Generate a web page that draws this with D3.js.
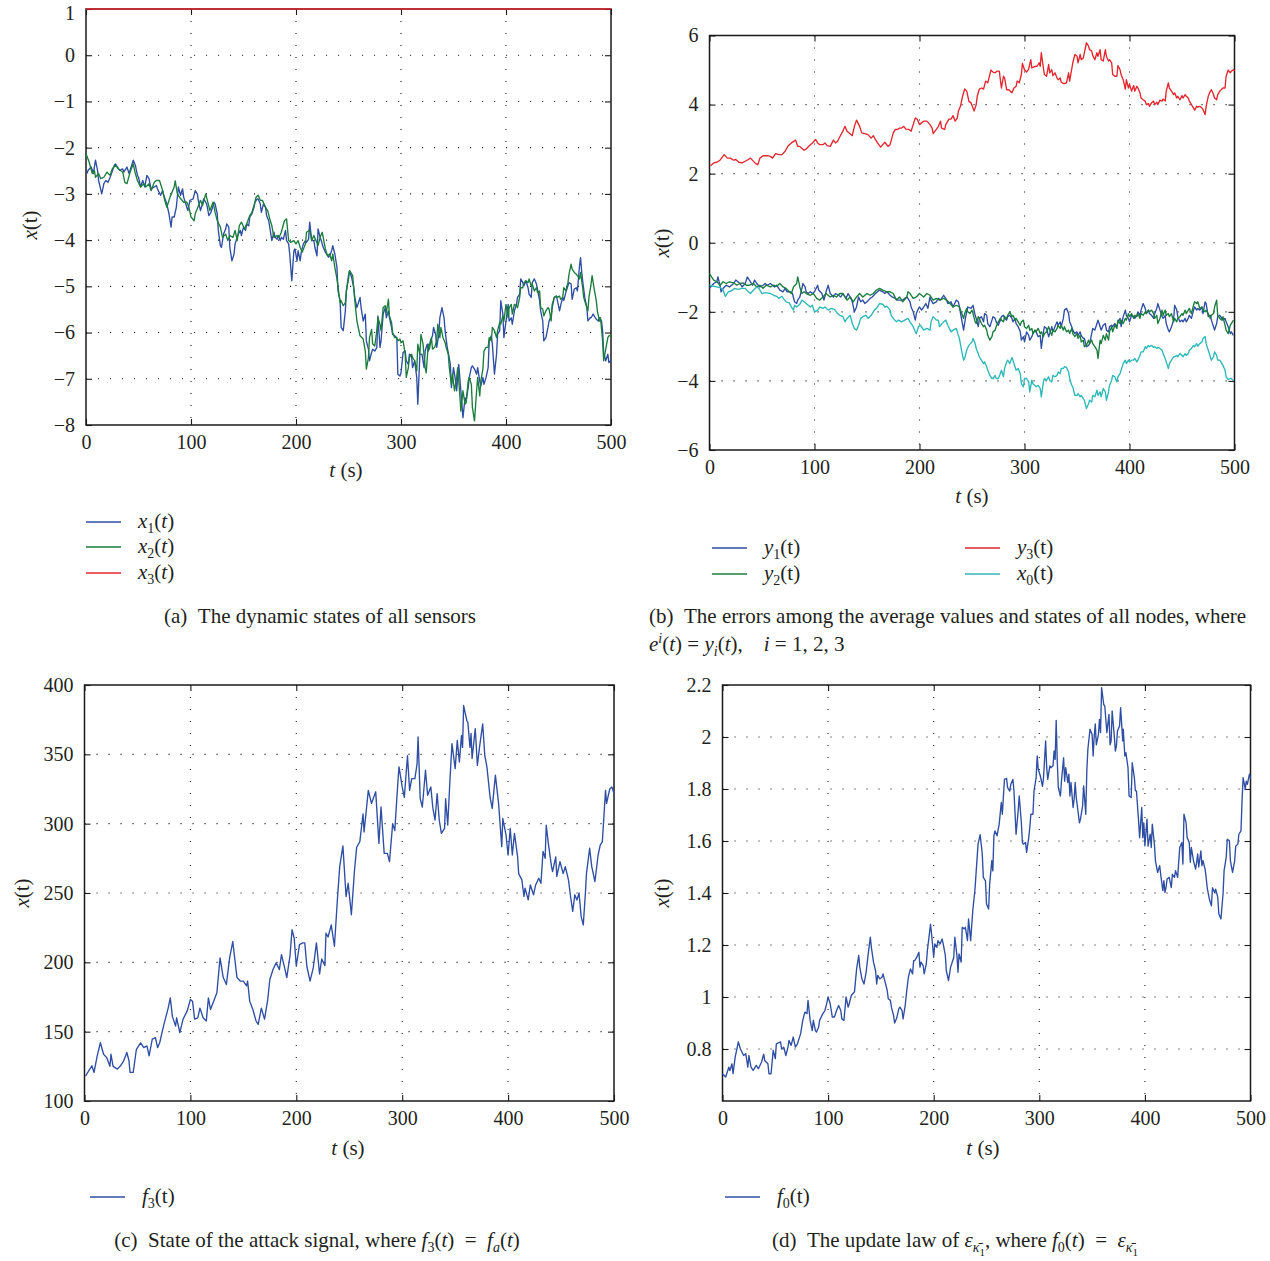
<!DOCTYPE html>
<html><head><meta charset="utf-8">
<script src="https://cdn.jsdelivr.net/npm/d3@7"></script>
<style>
body{margin:0;background:#fff;}
svg text{font-family:"Liberation Serif","DejaVu Serif",serif;fill:#231f20;}
</style></head><body>
<svg id="fig" width="1270" height="1261"></svg>
<script>
// ---- Shared axis ticks ----
const tTicks = [0, 100, 200, 300, 400, 500];
const aTicks = [1, 0, -1, -2, -3, -4, -5, -6, -7, -8];
const bTicks = [6, 4, 2, 0, -2, -4, -6];
const cTicks = [400, 350, 300, 250, 200, 150, 100];
const dTicks = [2.2, 2, 1.8, 1.6, 1.4, 1.2, 1, 0.8];

// ---- (a) sensor states, [t, value] ----
const x1 = [[1,-2.56],[2,-2.49],[5,-2.42],[7,-2.56],[9,-2.27],[11,-2.49],[12,-2.71],[15,-3.0],[17,-2.78],[19,-2.71],[21,-2.75],[23,-2.64],[27,-2.38],[28,-2.35],[30,-2.42],[32,-2.49],[35,-2.46],[36,-2.53],[39,-2.42],[41,-2.56],[43,-2.42],[45,-2.27],[47,-2.38],[49,-2.6],[50,-2.64],[52,-2.85],[54,-2.71],[56,-2.85],[58,-2.6],[60,-2.67],[62,-2.89],[65,-2.85],[67,-2.82],[68,-2.89],[71,-3.03],[73,-2.93],[74,-3.03],[77,-3.22],[79,-3.43],[81,-3.72],[82,-3.5],[84,-3.5],[86,-3.29],[88,-2.85],[90,-3.03],[92,-2.89],[93,-3.07],[96,-3.29],[97,-3.36],[99,-3.14],[102,-3.11],[104,-2.93],[106,-3.0],[107,-3.14],[109,-3.36],[110,-3.29],[112,-3.11],[114,-3.18],[115,-3.22],[117,-3.47],[119,-3.4],[122,-3.18],[123,-3.22],[125,-3.43],[126,-3.79],[128,-4.12],[129,-4.16],[131,-3.87],[133,-3.76],[134,-3.65],[136,-3.72],[137,-4.16],[139,-4.45],[141,-4.3],[142,-4.08],[144,-3.94],[145,-3.87],[147,-3.79],[148,-3.9],[150,-3.72],[152,-3.79],[153,-3.65],[155,-3.69],[156,-3.5],[158,-3.43],[160,-3.29],[161,-3.18],[163,-3.11],[164,-3.11],[166,-3.22],[167,-3.4],[169,-3.22],[171,-3.29],[172,-3.47],[174,-3.58],[175,-3.72],[177,-4.01],[179,-3.83],[180,-3.94],[182,-3.98],[183,-3.9],[185,-4.01],[186,-3.94],[188,-3.98],[190,-3.79],[191,-4.01],[193,-4.08],[194,-4.3],[196,-4.88],[198,-4.23],[199,-4.19],[201,-4.45],[202,-4.23],[204,-4.45],[205,-4.26],[207,-4.08],[209,-4.01],[210,-4.05],[212,-3.98],[213,-3.61],[215,-4.01],[217,-4.01],[218,-4.16],[220,-4.34],[221,-3.76],[223,-3.94],[224,-4.01],[226,-4.16],[228,-4.26],[229,-4.3],[231,-4.37],[232,-4.34],[234,-4.23],[235,-4.12],[237,-4.3],[239,-4.59],
[240,-5.1],[242,-5.31],[243,-5.89],[245,-5.96],[247,-5.53],[248,-5.1],[250,-4.77],[251,-4.66],[253,-4.81],[255,-5.03],[256,-5.24],[258,-5.46],[259,-5.39],[261,-5.24],[262,-5.46],[264,-5.75],[266,-5.6],[267,-6.18],[269,-6.36],[270,-6.61],[272,-6.43],[273,-6.36],[275,-6.4],[277,-6.32],[278,-5.64],[280,-6.32],[281,-6.18],[283,-5.6],[285,-5.46],[286,-5.68],[288,-5.53],[289,-5.68],[291,-5.89],[292,-6.04],[294,-6.07],[296,-6.11],[297,-6.9],[299,-6.94],[300,-6.87],[302,-6.43],[304,-6.4],[305,-6.61],[307,-6.69],[308,-6.47],[310,-6.5],[311,-6.76],[313,-6.61],[315,-6.97],[316,-7.55],[318,-6.47],[320,-6.47],[322,-6.76],[323,-6.4],[325,-6.25],[326,-6.4],[328,-6.18],[330,-6.07],[331,-5.89],[333,-6.04],[334,-6.32],[336,-6.04],[337,-5.68],[339,-5.46],[341,-5.68],[342,-5.96],[344,-6.32],[345,-6.43],[347,-6.69],[348,-7.19],[350,-6.76],[352,-7.05],[353,-7.26],[355,-6.69],[356,-6.97],[358,-7.55],[359,-7.84],[361,-7.41],[362,-7.48],[364,-7.19],[365,-6.97],[367,-6.76],[368,-6.72],[370,-6.79],[372,-6.9],[373,-6.76],[375,-7.05],[376,-7.16],[378,-6.97],[379,-7.12],[381,-6.97],[383,-6.76],[384,-6.18],[386,-6.07],[387,-6.25],[389,-6.9],[391,-6.47],[392,-6.04],[394,-5.96],[395,-5.31],[397,-5.6],[398,-6.11],[400,-5.75],[402,-5.39],[403,-5.75],[405,-5.68],[406,-5.82],[408,-5.53],[410,-5.39],[411,-5.24],[413,-5.17],[414,-4.84],[416,-4.92],[417,-4.99],[419,-4.88],[421,-5.03],[422,-5.17],[424,-5.24],[425,-4.92],[427,-4.84],[429,-4.95],[430,-5.06],[432,-5.31],[433,-5.53],[435,-5.75],[436,-6.18],[438,-6.11],[440,-5.89],[441,-5.75],[443,-5.64],[444,-5.46],[446,-5.24],[448,-5.21],[449,-5.31],[451,-5.53],[452,-5.42],[454,-5.24],[455,-5.31],[457,-5.13],[459,-4.99],[460,-4.92],[462,-4.95],[463,-5.28],[465,-5.06],[467,-5.03],[468,-5.1],[470,-4.56],[471,-4.38],[472,-4.66],[473,-4.88],[475,-5.24],[477,-5.46],[478,-5.75],[480,-5.68],[481,-5.68],[483,-5.6],[485,-5.68],[486,-5.71],[488,-5.75],[489,-5.68],[491,-5.75],[492,-5.96],[493,-6.43],[495,-6.61],[497,-6.47],[498,-6.65],[500,-6.6]];

const x2 = [[0,-2.13],[3,-2.31],[6,-2.56],[8,-2.49],[9,-2.64],[12,-2.56],[14,-2.67],[17,-2.64],[20,-2.53],[23,-2.6],[25,-2.46],[28,-2.38],[31,-2.46],[35,-2.53],[37,-2.75],[39,-2.78],[42,-2.53],[45,-2.35],[47,-2.56],[49,-2.71],[52,-2.85],[55,-2.78],[57,-2.85],[60,-2.78],[62,-2.93],[65,-2.75],[67,-2.71],[70,-2.71],[73,-2.93],[75,-3.14],[77,-3.29],[80,-3.07],[84,-2.85],[85,-2.72],[87,-3.0],[90,-3.1],[93,-3.18],[96,-3.18],[98,-3.29],[100,-3.5],[103,-3.58],[104,-3.43],[106,-3.32],[109,-3.14],[111,-3.25],[114,-3.0],[116,-3.18],[118,-3.36],[121,-3.18],[123,-3.4],[125,-3.58],[128,-3.72],[130,-3.94],[133,-3.87],[135,-4.01],[137,-3.9],[140,-3.94],[142,-3.79],[144,-4.01],[146,-3.69],[148,-3.61],[151,-3.76],[153,-3.65],[156,-3.47],[158,-3.4],[160,-3.25],[162,-3.07],[164,-3.03],[166,-3.14],[168,-3.14],[171,-3.29],[173,-3.36],[175,-3.54],[177,-3.69],[179,-3.94],[182,-3.9],[184,-3.94],[186,-3.83],[189,-3.58],[191,-3.54],[193,-4.01],[195,-4.05],[198,-4.01],[200,-4.08],[202,-4.01],[204,-4.16],[206,-4.26],[209,-4.08],[210,-3.83],[213,-3.79],[215,-4.01],[217,-3.9],[219,-4.01],[221,-4.12],[223,-3.94],[225,-3.83],[228,-4.19],[230,-4.34],[232,-4.3],[234,-4.45],[235,-4.3],[237,-4.59],[239,-4.84],
[242,-5.35],[243,-5.31],[245,-5.42],[247,-5.35],[248,-5.1],[250,-4.84],[251,-4.66],[254,-4.77],[256,-5.31],[258,-5.75],[261,-6.07],[264,-6.14],[266,-6.4],[267,-6.79],[269,-6.54],[270,-6.11],[272,-5.93],[273,-6.25],[275,-6.29],[277,-5.96],[278,-5.68],[280,-5.82],[281,-5.96],[283,-5.46],[285,-5.42],[286,-5.57],[288,-5.28],[289,-5.64],[291,-5.78],[292,-6.0],[294,-6.11],[296,-6.11],[297,-6.18],[299,-6.14],[300,-6.22],[302,-6.18],[304,-6.47],[305,-6.97],[307,-6.76],[308,-6.54],[310,-6.47],[311,-6.54],[313,-6.61],[315,-6.83],[316,-6.25],[318,-6.47],[319,-6.04],[321,-6.25],[323,-6.76],[324,-6.87],[326,-6.25],[327,-6.36],[329,-6.11],[330,-6.36],[332,-6.32],[334,-6.18],[335,-5.82],[337,-6.11],[338,-5.89],[340,-6.11],[342,-6.22],[343,-6.32],[345,-6.47],[346,-6.76],[348,-7.12],[349,-6.9],[351,-7.26],[353,-6.97],[354,-6.76],[356,-7.34],[357,-7.7],[359,-7.26],[361,-7.55],[362,-7.52],[364,-7.05],[365,-6.97],[367,-7.12],[368,-7.62],[370,-7.91],[372,-7.26],[373,-6.97],[375,-7.37],[376,-7.05],[378,-6.79],[379,-6.4],[381,-6.32],[383,-6.32],[384,-6.11],[386,-6.18],[387,-5.89],[389,-5.96],[391,-6.11],[392,-5.96],[394,-5.78],[395,-5.82],[397,-5.64],[398,-5.75],[400,-5.39],[402,-5.68],[403,-5.46],[405,-5.39],[406,-5.6],[408,-5.39],[410,-5.42],[411,-5.46],[413,-5.24],[414,-5.03],[416,-5.03],[417,-4.92],[419,-4.88],[421,-4.92],[422,-4.84],[424,-4.99],[425,-4.95],[427,-5.1],[429,-5.03],[430,-5.13],[432,-5.1],[433,-5.46],[435,-5.49],[436,-5.64],[438,-5.53],[440,-5.46],[441,-5.49],[443,-5.75],[444,-5.39],[446,-5.24],[448,-5.21],[449,-5.24],[451,-5.21],[452,-5.28],[454,-5.24],[455,-5.03],[457,-5.1],[459,-4.92],[460,-4.74],[462,-4.52],[463,-4.63],[465,-4.7],[467,-4.74],[468,-4.77],[470,-4.84],[471,-4.7],[473,-5.03],[474,-5.24],[476,-5.39],[478,-5.53],[479,-5.24],[481,-4.95],[482,-4.77],[484,-5.06],[486,-5.31],[487,-5.53],[489,-5.75],[490,-5.68],[492,-6.18],[493,-6.61],[495,-6.36],[497,-6.11],[498,-6.07],[500,-6.07]];

const x3 = [[0,1],[100,1],[200,1],[300,1],[400,1],[500,1]];

// ---- (b) average values and node states ----
const y1 = [[0,-1.32],[4,-1.18],[7,-1.13],[8,-0.99],[10,-1.23],[11,-1.42],[13,-1.32],[16,-1.23],[19,-1.28],[23,-1.18],[25,-1.08],[27,-1.13],[29,-1.18],[31,-1.28],[34,-1.18],[36,-0.99],[38,-1.08],[41,-1.23],[43,-1.08],[45,-1.18],[48,-1.28],[51,-1.23],[53,-1.18],[55,-1.23],[58,-1.18],[60,-1.23],[62,-1.28],[64,-1.23],[67,-1.37],[70,-1.42],[72,-1.32],[74,-1.42],[77,-1.42],[79,-1.47],[81,-1.71],[83,-1.76],[84,-1.66],[86,-1.57],[88,-1.32],[89,-1.18],[91,-1.28],[92,-1.42],[94,-1.47],[96,-1.42],[98,-1.47],[100,-1.42],[103,-1.23],[104,-1.37],[107,-1.47],[109,-1.66],[111,-1.42],[113,-1.23],[115,-1.47],[118,-1.57],[120,-1.47],[123,-1.52],[125,-1.57],[127,-1.47],[130,-1.61],[132,-1.47],[134,-1.57],[136,-1.71],[138,-2.0],[140,-1.86],[142,-1.57],[144,-1.71],[146,-1.66],[148,-1.76],[150,-1.71],[153,-1.61],[155,-1.57],[158,-1.47],[160,-1.42],[162,-1.37],[165,-1.42],[167,-1.47],[169,-1.42],[172,-1.52],[174,-1.57],[177,-1.61],[179,-1.66],[181,-1.66],[184,-1.66],[186,-1.61],[188,-1.57],[191,-1.71],[192,-1.86],[194,-2.0],[196,-2.24],[197,-2.05],[199,-1.9],[200,-1.86],[202,-1.95],[204,-1.86],[206,-1.76],[208,-1.9],[210,-1.57],[211,-1.66],[213,-1.76],[216,-1.71],[218,-1.61],[220,-1.66],[223,-1.52],[225,-1.61],[227,-1.76],[230,-1.71],[232,-1.86],[235,-1.66],[237,-1.71],
[238,-1.86],[242,-2.53],[244,-2.14],[246,-1.86],[249,-1.9],[251,-1.81],[253,-2.1],[254,-2.19],[256,-2.43],[257,-2.19],[259,-2.14],[261,-2.29],[262,-2.05],[264,-2.1],[265,-2.34],[267,-2.43],[269,-2.24],[270,-2.14],[272,-2.19],[273,-2.29],[275,-2.39],[277,-2.24],[278,-2.14],[280,-2.1],[281,-2.19],[283,-2.24],[284,-2.14],[286,-2.1],[288,-2.19],[289,-2.29],[291,-2.19],[292,-2.34],[294,-2.43],[296,-2.58],[297,-2.82],[299,-2.72],[300,-2.87],[302,-2.58],[304,-2.68],[305,-2.82],[307,-2.72],[308,-2.63],[310,-2.53],[311,-2.58],[313,-2.72],[315,-2.68],[316,-3.06],[318,-2.58],[319,-2.43],[321,-2.48],[323,-2.72],[324,-2.63],[326,-2.43],[327,-2.58],[329,-2.43],[331,-2.29],[332,-2.39],[334,-2.29],[335,-2.43],[337,-2.19],[338,-1.95],[340,-1.9],[342,-2.05],[343,-2.29],[345,-2.43],[346,-2.53],[348,-2.63],[350,-2.58],[351,-2.68],[353,-2.58],[354,-2.68],[356,-2.77],[357,-2.77],[359,-3.01],[361,-2.97],[362,-2.92],[364,-2.63],[365,-2.48],[367,-2.53],[369,-2.34],[370,-2.24],[372,-2.43],[373,-2.53],[375,-2.39],[377,-2.34],[378,-2.53],[380,-2.58],[381,-2.43],[383,-2.39],[384,-2.43],[386,-2.34],[388,-2.43],[389,-2.29],[391,-2.19],[392,-2.43],[394,-2.14],[396,-1.95],[397,-2.1],[399,-2.19],[400,-2.29],[402,-2.1],[404,-2.14],[405,-2.19],[407,-2.1],[408,-2.0],[410,-2.1],[411,-1.95],[413,-1.76],[415,-1.9],[416,-2.05],[418,-1.95],[419,-2.05],[421,-2.1],[423,-2.19],[424,-2.05],[426,-1.9],[427,-1.76],[429,-1.95],[431,-2.14],[432,-2.19],[434,-2.1],[435,-2.34],[437,-2.53],[438,-2.58],[440,-2.43],[442,-2.24],[443,-1.81],[445,-1.95],[446,-2.14],[448,-2.29],[450,-2.24],[451,-2.29],[453,-2.19],[454,-2.29],[456,-2.19],[457,-2.1],[459,-2.19],[461,-1.95],[462,-1.86],[464,-1.95],[465,-1.9],[467,-1.95],[469,-1.86],[470,-2.05],[472,-1.71],[473,-1.76],[475,-2.14],[477,-2.1],[478,-2.24],[480,-2.43],[481,-2.53],[483,-2.34],[484,-2.14],[486,-2.1],[488,-2.19],[489,-2.24],[491,-2.19],[492,-2.29],[494,-2.43],[496,-2.63],[497,-2.58],[499,-2.68]];

const y2 = [[0,-0.89],[2,-0.99],[4,-1.08],[7,-1.13],[10,-1.23],[13,-1.13],[16,-1.18],[19,-1.13],[23,-1.16],[26,-1.23],[29,-1.18],[32,-1.16],[35,-1.23],[38,-1.23],[42,-1.18],[45,-1.28],[48,-1.23],[51,-1.32],[54,-1.23],[58,-1.28],[61,-1.23],[64,-1.26],[67,-1.18],[70,-1.28],[73,-1.32],[76,-1.42],[78,-1.47],[80,-1.28],[83,-1.18],[84,-0.99],[86,-1.28],[88,-1.47],[90,-1.42],[92,-1.47],[96,-1.52],[99,-1.47],[102,-1.61],[105,-1.66],[108,-1.57],[111,-1.47],[115,-1.57],[118,-1.52],[121,-1.57],[124,-1.47],[127,-1.47],[131,-1.66],[134,-1.57],[137,-1.71],[140,-1.57],[143,-1.47],[146,-1.57],[150,-1.47],[153,-1.52],[156,-1.47],[159,-1.37],[162,-1.32],[165,-1.37],[169,-1.42],[172,-1.42],[175,-1.47],[178,-1.66],[181,-1.57],[184,-1.71],[188,-1.57],[189,-1.42],[191,-1.47],[194,-1.61],[197,-1.57],[200,-1.47],[204,-1.57],[207,-1.47],[210,-1.52],[213,-1.66],[216,-1.61],[219,-1.66],[223,-1.61],[226,-1.66],[229,-1.76],[232,-1.86],[235,-1.81],[238,-1.86],
[242,-2.19],[243,-2.05],[245,-1.9],[246,-2.0],[248,-2.05],[250,-1.95],[251,-2.05],[253,-2.29],[254,-2.34],[256,-2.14],[257,-2.19],[259,-2.34],[261,-2.43],[262,-2.39],[264,-2.53],[265,-2.68],[267,-2.82],[269,-2.72],[270,-2.58],[272,-2.53],[273,-2.43],[275,-2.29],[277,-2.19],[278,-2.24],[280,-2.29],[281,-2.14],[283,-2.19],[284,-2.1],[286,-2.0],[288,-2.14],[289,-2.1],[291,-2.24],[292,-2.19],[294,-2.29],[296,-2.39],[297,-2.29],[299,-2.24],[300,-2.43],[302,-2.48],[304,-2.39],[305,-2.53],[307,-2.48],[308,-2.63],[310,-2.53],[311,-2.58],[313,-2.48],[315,-2.63],[316,-2.58],[318,-2.72],[319,-2.63],[321,-2.58],[323,-2.43],[324,-2.53],[326,-2.68],[327,-2.53],[329,-2.58],[331,-2.48],[332,-2.39],[334,-2.48],[335,-2.39],[337,-2.53],[338,-2.43],[340,-2.58],[342,-2.53],[343,-2.63],[345,-2.48],[346,-2.63],[348,-2.72],[350,-2.63],[351,-2.77],[353,-2.68],[354,-2.87],[356,-2.82],[357,-3.01],[359,-2.97],[361,-2.82],[362,-2.92],[364,-2.82],[365,-2.92],[367,-3.01],[369,-3.11],[370,-3.35],[372,-2.82],[373,-2.92],[375,-2.68],[377,-2.82],[378,-2.63],[380,-2.82],[381,-2.58],[383,-2.43],[384,-2.58],[386,-2.39],[388,-2.48],[389,-2.24],[391,-2.34],[392,-2.24],[394,-2.34],[396,-2.19],[397,-2.24],[399,-2.05],[400,-2.14],[402,-2.05],[404,-2.19],[405,-2.1],[407,-2.14],[408,-2.05],[410,-2.19],[411,-2.05],[413,-2.1],[415,-2.0],[416,-2.05],[418,-1.95],[419,-2.0],[421,-1.95],[423,-2.05],[424,-2.19],[426,-2.1],[427,-2.34],[429,-2.19],[431,-1.95],[432,-2.1],[434,-1.95],[435,-2.1],[437,-2.05],[438,-2.14],[440,-2.05],[442,-2.29],[443,-2.19],[445,-2.29],[446,-2.19],[448,-2.14],[450,-2.05],[451,-2.1],[453,-1.95],[454,-2.05],[456,-1.95],[457,-1.9],[459,-2.05],[461,-1.81],[462,-1.71],[464,-1.76],[465,-1.71],[467,-1.9],[469,-1.86],[470,-1.95],[472,-2.0],[473,-1.95],[475,-2.05],[477,-2.19],[478,-2.1],[480,-2.05],[481,-1.86],[483,-1.66],[484,-2.1],[486,-2.19],[488,-2.24],[489,-2.14],[491,-2.39],[492,-2.53],[494,-2.63],[496,-2.39],[497,-2.34],[499,-2.24]];

const y3 = [[1,2.23],[4,2.31],[7,2.33],[10,2.39],[14,2.55],[17,2.45],[20,2.45],[23,2.39],[25,2.41],[28,2.33],[31,2.31],[34,2.36],[37,2.41],[39,2.45],[44,2.29],[46,2.26],[48,2.45],[51,2.52],[55,2.52],[58,2.5],[60,2.45],[63,2.58],[66,2.55],[69,2.55],[72,2.65],[75,2.81],[78,2.89],[82,2.97],[84,2.79],[86,2.79],[90,2.68],[92,2.71],[95,2.81],[98,2.89],[101,2.99],[103,2.89],[105,2.84],[108,2.84],[110,2.89],[112,2.81],[115,2.79],[118,2.97],[120,2.89],[122,2.94],[124,3.06],[127,3.23],[129,3.37],[131,3.23],[133,3.18],[136,3.1],[138,3.37],[140,3.55],[143,3.37],[145,3.18],[148,3.16],[151,3.13],[154,3.03],[156,3.1],[158,2.99],[160,2.89],[163,2.77],[165,2.84],[167,2.91],[170,2.79],[172,2.84],[175,3.18],[177,3.28],[179,3.28],[181,3.32],[183,3.32],[185,3.37],[187,3.29],[190,3.28],[192,3.23],[194,3.42],[196,3.61],[198,3.57],[200,3.42],[202,3.47],[204,3.52],[207,3.52],[210,3.42],[212,3.32],[213,3.16],[216,3.28],[218,3.37],[220,3.52],[221,3.32],[224,3.28],[225,3.42],[228,3.58],[230,3.58],[232,3.68],[234,3.52],[236,3.61],[237,3.81],[239,3.95],
[241,4.24],[243,4.45],[245,4.39],[247,4.1],[249,4.05],[251,3.9],[252,3.81],[254,4.0],[255,4.24],[257,4.45],[259,4.48],[261,4.45],[263,4.68],[265,4.63],[268,5.0],[270,4.94],[272,4.92],[274,4.97],[276,4.97],[277,4.72],[278,4.48],[280,4.82],[281,4.77],[283,4.43],[285,4.43],[288,4.34],[290,4.48],[292,4.53],[293,4.68],[295,4.63],[297,4.87],[298,5.19],[300,5.01],[302,4.94],[304,5.03],[306,5.3],[307,5.06],[309,5.09],[311,5.11],[312,5.11],[314,5.21],[315,5.11],[316,5.5],[318,5.06],[319,4.87],[321,4.82],[323,5.16],[324,4.92],[326,5.01],[327,4.84],[329,4.92],[331,4.77],[332,4.72],[334,4.77],[335,4.65],[337,4.61],[338,4.61],[340,4.63],[342,4.92],[343,4.68],[345,5.03],[346,5.21],[348,5.45],[350,5.4],[351,5.21],[353,5.45],[354,5.3],[356,5.35],[357,5.5],[359,5.79],[361,5.69],[362,5.59],[364,5.55],[365,5.42],[367,5.3],[369,5.5],[370,5.4],[372,5.59],[373,5.3],[375,5.26],[377,5.59],[378,5.4],[380,5.26],[381,5.3],[383,5.21],[384,4.87],[386,4.82],[388,4.82],[389,5.13],[391,5.01],[392,4.87],[394,4.72],[396,4.45],[397,4.72],[399,4.48],[400,4.58],[402,4.39],[404,4.55],[405,4.39],[407,4.53],[408,4.48],[410,4.34],[411,4.19],[413,4.14],[415,4.1],[416,4.0],[418,4.03],[419,3.95],[421,4.05],[423,4.1],[424,4.0],[426,4.07],[427,4.0],[429,4.13],[431,4.1],[432,4.16],[434,4.1],[435,4.39],[437,4.63],[438,4.48],[440,4.39],[442,4.29],[443,4.34],[445,4.19],[446,4.24],[448,4.14],[450,4.26],[451,4.19],[453,4.29],[454,4.24],[456,4.19],[457,4.1],[459,4.0],[461,3.9],[462,3.84],[464,3.95],[465,3.93],[467,3.95],[469,3.9],[470,3.86],[472,3.71],[473,3.95],[475,4.24],[477,4.39],[478,4.43],[480,4.29],[481,4.19],[483,4.14],[484,4.29],[486,4.39],[488,4.45],[489,4.48],[491,4.48],[492,4.82],[494,5.0],[496,4.92],[497,4.97],[499,5.01],[500,4.97]];

const x0 = [[0,-1.23],[4,-1.26],[7,-1.28],[10,-1.29],[13,-1.37],[15,-1.55],[18,-1.42],[21,-1.39],[24,-1.32],[27,-1.35],[31,-1.32],[34,-1.32],[37,-1.42],[39,-1.47],[42,-1.37],[45,-1.28],[47,-1.32],[50,-1.47],[52,-1.45],[54,-1.45],[58,-1.47],[61,-1.52],[64,-1.55],[66,-1.61],[69,-1.55],[71,-1.64],[73,-1.71],[76,-1.74],[78,-1.86],[80,-1.95],[81,-1.81],[83,-1.86],[86,-1.78],[88,-1.66],[90,-1.71],[92,-1.76],[96,-1.86],[98,-1.81],[100,-2.0],[103,-1.95],[105,-1.86],[108,-1.9],[110,-1.86],[113,-1.95],[116,-1.9],[119,-1.93],[122,-2.05],[124,-2.1],[127,-2.14],[129,-2.29],[131,-2.19],[134,-2.1],[136,-2.34],[138,-2.48],[140,-2.53],[142,-2.39],[144,-2.19],[146,-2.14],[149,-2.1],[151,-2.19],[154,-2.1],[157,-1.95],[159,-1.9],[162,-1.76],[165,-1.78],[167,-1.86],[169,-1.84],[172,-1.95],[173,-2.1],[175,-2.19],[178,-2.29],[180,-2.24],[183,-2.29],[186,-2.24],[189,-2.19],[191,-2.29],[194,-2.43],[196,-2.58],[197,-2.63],[199,-2.43],[201,-2.39],[204,-2.53],[207,-2.48],[210,-2.53],[211,-2.29],[213,-2.14],[216,-2.24],[218,-2.24],[219,-2.43],[223,-2.29],[225,-2.24],[227,-2.39],[230,-2.58],[232,-2.53],[235,-2.48],[237,-2.68],
[238,-2.77],[240,-3.11],[242,-3.4],[243,-3.35],[245,-3.11],[247,-2.97],[250,-2.87],[251,-2.77],[253,-2.92],[254,-3.06],[256,-3.21],[257,-3.3],[259,-3.4],[261,-3.5],[262,-3.45],[264,-3.59],[265,-3.69],[267,-3.84],[269,-3.93],[270,-3.93],[272,-3.84],[273,-3.93],[275,-3.93],[277,-3.79],[278,-3.69],[280,-3.88],[281,-3.64],[283,-3.45],[284,-3.4],[286,-3.5],[288,-3.32],[289,-3.4],[291,-3.59],[292,-3.69],[294,-3.64],[296,-3.79],[297,-4.08],[299,-4.17],[300,-3.93],[302,-3.93],[304,-4.03],[305,-4.32],[307,-3.98],[308,-4.08],[310,-4.13],[311,-4.17],[313,-4.13],[315,-4.22],[316,-4.46],[318,-4.03],[319,-3.93],[321,-3.98],[323,-3.88],[324,-3.98],[326,-4.03],[327,-3.84],[329,-3.88],[331,-3.84],[332,-3.74],[334,-3.79],[335,-3.64],[337,-3.64],[338,-3.59],[340,-3.61],[342,-3.74],[343,-3.93],[345,-4.13],[346,-4.17],[348,-4.42],[350,-4.42],[351,-4.37],[353,-4.46],[354,-4.42],[356,-4.51],[357,-4.56],[359,-4.8],[361,-4.66],[362,-4.56],[364,-4.61],[365,-4.42],[367,-4.46],[369,-4.27],[370,-4.42],[372,-4.32],[373,-4.46],[375,-4.22],[377,-4.32],[378,-4.56],[380,-4.32],[381,-4.13],[383,-3.98],[384,-3.84],[386,-3.88],[388,-4.03],[389,-3.88],[391,-3.79],[392,-3.69],[394,-3.5],[396,-3.4],[397,-3.5],[399,-3.4],[400,-3.45],[402,-3.4],[404,-3.4],[405,-3.35],[407,-3.45],[408,-3.4],[410,-3.26],[411,-3.16],[413,-3.16],[415,-3.01],[416,-3.06],[418,-2.97],[419,-3.01],[421,-2.97],[423,-3.03],[424,-3.01],[426,-3.06],[427,-3.03],[429,-3.06],[431,-3.11],[432,-3.21],[434,-3.35],[435,-3.45],[437,-3.64],[438,-3.5],[440,-3.4],[442,-3.3],[443,-3.3],[445,-3.26],[446,-3.3],[448,-3.21],[450,-3.26],[451,-3.3],[453,-3.21],[454,-3.26],[456,-3.21],[457,-3.11],[459,-3.06],[461,-2.97],[462,-3.01],[464,-2.92],[465,-3.0],[467,-2.92],[469,-2.87],[470,-2.77],[472,-2.71],[473,-2.92],[475,-3.11],[477,-3.3],[478,-3.4],[480,-3.3],[481,-3.16],[483,-3.26],[484,-3.4],[486,-3.4],[488,-3.5],[489,-3.55],[491,-3.69],[492,-3.88],[494,-3.96],[496,-3.93],[497,-3.93],[499,-4.0]];

// ---- (c) attack signal f3(t) ----
const f3 = [[1,118],[4,121.8],[7,125.4],[9,120.6],[12,132.5],[15,142],[18,133.7],[21,131.3],[24,125],[25,133.7],[27,125],[31,123],[34,125.4],[37,129],[40,135],[42,129],[43,120.6],[46,120.6],[49,137.3],[53,142],[56,138.5],[59,139.7],[61,132.5],[64,144.6],[67,145.7],[69,138.5],[71,142],[75,155.3],[77,161],[79,167],[81,174.4],[83,161],[86,154],[87,160],[90,149.3],[93,158.9],[97,165],[100,173.2],[102,172],[104,159],[107,160],[109,167],[112,160],[115,157.7],[117,174.4],[119,166],[122,172],[125,178],[128,203.2],[131,189],[134,184],[137,203],[140,215],[142,202],[144,189],[147,186.5],[150,186.5],[153,183],[154,186.5],[156,172],[159,166],[162,157.7],[164,155.3],[167,167],[170,159],[173,173],[175,187.6],[178,194.8],[181,199.6],[184,194.8],[186,205.6],[189,196],[191,189],[194,204.4],[196,223.5],[198,217.5],[200,197.2],[203,212.8],[206,214],[208,214],[210,197],[213,186.5],[216,196],[219,214],[222,191.6],[224,202.4],[227,197.6],[228,221],[230,218.3],[233,227],[236,211.6],[239,247.5],[241,269],
[244,284],[247,247.5],[249,257],[252,234.3],[255,266.7],[257,283],[260,287],[263,307],[264,294],[268,324],[271,314.6],[275,323],[278,285.8],[280,312],[283,278.6],[286,278.6],[288,272.6],[291,300],[293,295],[296,331],[297,341],[300,326.5],[302,319],[305,349],[307,324],[309,332.5],[312,332.5],[314,343],[315,362.5],[317,318],[319,312],[322,338.5],[324,320.5],[327,326.5],[329,311],[331,302.6],[333,321.7],[335,302.6],[337,293],[340,296.6],[341,318],[343,299],[345,330],[347,357.7],[350,339.7],[352,360],[354,344.5],[356,363.7],[357,355],[358,385.2],[361,374.4],[362,373],[364,355],[365,365],[366,347],[369,368.5],[371,342],[373,355],[376,372],[378,349],[380,341],[383,319],[385,311],[388,335],[391,314.6],[394,283.4],[395,303.7],[398,292],[400,277.4],[402,296.6],[404,277.4],[406,293],[409,276],[410,264],[413,259.5],[415,247.5],[416,253.5],[419,245],[421,255.8],[424,248.7],[426,255.8],[429,260.6],[431,257],[433,280],[435,275],[436,299],[438,285.8],[441,269],[442,265.5],[445,276],[446,262],[449,272.6],[452,264],[454,269],[457,259.5],[459,247.5],[461,236.7],[463,248.7],[465,245],[467,250],[469,233],[471,227],[473,250],[474,264],[477,282.3],[479,269],[482,258.3],[485,277.4],[487,284.6],[489,287],[492,324],[493,314.6],[495,321.7],[496,325],[498,326.5],[500,322]];

// ---- (d) update law f0(t) ----
const f0 = [[0,0.705],[3,0.692],[6,0.73],[7,0.717],[9,0.743],[10,0.705],[12,0.769],[15,0.827],[17,0.8],[20,0.775],[22,0.782],[24,0.73],[25,0.775],[27,0.73],[29,0.718],[32,0.737],[34,0.724],[37,0.75],[39,0.78],[40,0.756],[43,0.743],[44,0.705],[46,0.705],[48,0.795],[50,0.763],[51,0.82],[55,0.827],[56,0.8],[58,0.807],[60,0.775],[62,0.807],[63,0.833],[65,0.814],[67,0.846],[69,0.807],[71,0.82],[74,0.859],[76,0.91],[78,0.942],[80,0.936],[81,0.987],[83,0.91],[85,0.871],[86,0.91],[88,0.871],[89,0.865],[91,0.884],[92,0.91],[95,0.936],[97,0.948],[99,0.98],[100,1.0],[102,0.974],[104,0.923],[106,0.923],[108,0.948],[110,0.967],[112,0.948],[113,0.916],[115,0.91],[117,1.0],[119,0.961],[120,0.974],[122,1.006],[125,1.02],[127,1.108],[129,1.16],[130,1.115],[132,1.07],[134,1.05],[136,1.095],[138,1.166],[140,1.23],[141,1.19],[143,1.134],[145,1.1],[146,1.05],[147,1.083],[149,1.07],[151,1.076],[152,1.089],[154,1.057],[156,1.025],[157,0.993],[159,0.987],[160,0.96],[162,0.929],[163,0.9],[165,0.919],[167,0.955],[168,0.961],[170,0.948],[171,0.916],[173,0.967],[174,1.006],[176,1.076],[178,1.108],[180,1.089],[181,1.14],[182,1.14],[184,1.153],[186,1.172],[187,1.115],[188,1.134],[190,1.121],[191,1.089],[193,1.127],[194,1.178],[197,1.28],[198,1.242],[200,1.153],[201,1.204],[203,1.191],[204,1.217],[206,1.204],[208,1.223],[209,1.204],[211,1.16],[212,1.1],[214,1.063],[216,1.115],[217,1.127],[219,1.153],[220,1.23],[222,1.16],[223,1.095],[224,1.166],[226,1.134],[227,1.268],[229,1.262],[230,1.268],[232,1.217],[233,1.3],[235,1.217],[237,1.332],
[239,1.409],[242,1.588],[244,1.624],[246,1.55],[247,1.46],[249,1.447],[250,1.358],[252,1.338],[253,1.434],[255,1.524],[256,1.485],[257,1.62],[258,1.639],[260,1.62],[262,1.665],[264,1.748],[265,1.703],[267,1.837],[269,1.841],[270,1.805],[272,1.792],[273,1.818],[275,1.837],[276,1.793],[278,1.626],[280,1.716],[281,1.773],[283,1.67],[284,1.594],[285,1.588],[287,1.594],[288,1.556],[290,1.613],[291,1.652],[292,1.703],[294,1.703],[295,1.793],[297,1.844],[298,1.927],[299,1.876],[301,1.85],[303,1.81],[304,1.844],[306,1.985],[307,1.882],[308,1.837],[310,1.889],[311,1.882],[313,1.889],[314,1.946],[315,1.914],[316,2.064],[317,1.908],[318,1.805],[320,1.773],[321,1.831],[323,1.92],[324,1.83],[325,1.882],[327,1.825],[328,1.857],[329,1.773],[330,1.825],[332,1.729],[333,1.761],[334,1.825],[335,1.767],[337,1.703],[338,1.67],[339,1.684],[341,1.735],[342,1.812],[344,1.703],[345,1.87],[346,1.953],[348,2.03],[350,2.01],[351,1.927],[352,2.004],[353,2.05],[354,1.97],[356,2.01],[357,2.068],[358,2.017],[359,2.19],[361,2.125],[362,2.119],[363,2.068],[364,2.017],[366,2.087],[367,1.97],[368,1.984],[369,2.1],[371,2.004],[372,1.946],[373,1.965],[374,2.023],[376,2.042],[377,2.113],[379,1.985],[379.5,2.03],[381,1.927],[382,1.94],[384,1.882],[385,1.773],[387,1.767],[388,1.901],[390,1.844],[391,1.793],[392,1.793],[394,1.678],[395,1.613],[397,1.729],[398,1.613],[399,1.67],[400,1.581],[402,1.684],[403,1.58],[405,1.626],[406,1.575],[407,1.665],[409,1.588],[410,1.524],[412,1.479],[414,1.505],[415,1.47],[417,1.409],[418,1.447],[419,1.402],[420,1.421],[421,1.454],[423,1.46],[425,1.421],[426,1.472],[428,1.46],[429,1.486],[431,1.46],[433,1.575],[435,1.594],[436,1.511],[437,1.703],[439,1.67],[440,1.613],[442,1.594],[443,1.518],[444,1.575],[446,1.524],[448,1.492],[449,1.518],[450,1.55],[451,1.5],[453,1.562],[454,1.505],[455,1.524],[457,1.492],[458,1.46],[459,1.42],[461,1.377],[463,1.351],[464,1.42],[466,1.402],[467,1.415],[469,1.383],[470,1.32],[472,1.3],[474,1.396],[475,1.486],[477,1.537],[478,1.607],[480,1.601],[481,1.524],[483,1.479],[485,1.524],[486,1.58],[488,1.588],[489,1.626],[491,1.639],[492,1.754],[493,1.844],[495,1.8],[496,1.83],[497,1.818],[499,1.857],[500,1.84]];

// ---- Styling ----
const BLUE = "#2e4ea4", GREEN = "#1a7d3d", RED = "#e3262c", CYAN = "#2cb8b8";
const INK = "#231f20";
const TICK_FS = 20, LABEL_FS = 21, SUB_FS = 14;
const svg = d3.select("#fig");

// Writes a run of styled pieces (italic / sub / sup) into a text element.
function rich(text, parts) {
  let shift = 0;
  parts.forEach(p => {
    const s = p.s || 0;
    const ts = text.append("tspan").text(p.t).attr("dy", s - shift);
    if (p.i) ts.attr("font-style", "italic");
    if (p.f) ts.attr("font-size", p.f);
    shift = s;
  });
}

function panel(p) {
  const g = svg.append("g");
  const x = d3.scaleLinear().domain([0, 500]).range([p.left, p.right]);
  const y = d3.scaleLinear().domain(p.yDomain).range([p.bottom, p.top]);
  const [y0, y1d] = p.yDomain;

  // dotted grid
  const grid = g.append("g").attr("stroke", "#1a1a1a").attr("stroke-width", 1.1)
    .attr("stroke-dasharray", "1.1,10.9").attr("fill", "none");
  grid.selectAll(".gx").data(tTicks.filter(t => t > 0 && t < 500)).join("line")
    .attr("x1", d => x(d)).attr("x2", d => x(d)).attr("y1", p.top).attr("y2", p.bottom);
  grid.selectAll(".gy").data(p.yTicks.filter(v => v > y0 + 1e-9 && v < y1d - 1e-9)).join("line")
    .attr("x1", p.left).attr("x2", p.right).attr("y1", d => y(d)).attr("y2", d => y(d));

  // frame
  g.append("rect").attr("x", p.left).attr("y", p.top)
    .attr("width", p.right - p.left).attr("height", p.bottom - p.top)
    .attr("fill", "none").attr("stroke", "#1a1a1a").attr("stroke-width", 1.5);

  // axes with inward ticks on all four sides
  const fmt = p.fmt || (d => d3.format("~g")(d).replace("-", "\u2212"));
  const ax = (gen, tr) => {
    const a = g.append("g").attr("transform", tr).call(gen);
    a.select(".domain").remove();
    a.selectAll(".tick line").attr("stroke", "#1a1a1a").attr("stroke-width", 1.1);
    a.selectAll("text").attr("font-size", TICK_FS).attr("fill", INK);
    return a;
  };
  ax(d3.axisBottom(x).tickValues(tTicks).tickSizeInner(-6).tickSizeOuter(0).tickPadding(10),
     `translate(0,${p.bottom})`);
  ax(d3.axisTop(x).tickValues(tTicks).tickSizeInner(-6).tickSizeOuter(0).tickFormat(""),
     `translate(0,${p.top})`);
  const left = ax(d3.axisLeft(y).tickValues(p.yTicks).tickSizeInner(-6).tickSizeOuter(0).tickPadding(11).tickFormat(fmt),
     `translate(${p.left},0)`);
  ax(d3.axisRight(y).tickValues(p.yTicks).tickSizeInner(-6).tickSizeOuter(0).tickFormat(""),
     `translate(${p.right},0)`);
  // keep a label that sits on the page's top edge inside the page
  left.selectAll(".tick text").filter(d => y(d) < 14).attr("dy", "0.5em");

  // series
  const line = d3.line().x(d => x(d[0])).y(d => y(d[1]));
  p.series.forEach(s => {
    g.append("path").datum(s.data).attr("d", line).attr("fill", "none")
      .attr("stroke", s.color).attr("stroke-width", 1.35).attr("stroke-linejoin", "round");
  });

  // axis titles
  const xt = g.append("text").attr("x", p.xLabel[0]).attr("y", p.xLabel[1])
    .attr("text-anchor", "middle").attr("font-size", LABEL_FS);
  rich(xt, [{t: "t", i: true}, {t: " (s)"}]);
  const yt = g.append("text").attr("transform", `translate(${p.yLabel[0]},${p.yLabel[1]}) rotate(-90)`)
    .attr("text-anchor", "middle").attr("font-size", LABEL_FS);
  rich(yt, [{t: "x", i: true}, {t: "(t)"}]);

  // legend
  p.legend.forEach(l => {
    g.append("line").attr("x1", l.x).attr("x2", l.x + 35).attr("y1", l.y).attr("y2", l.y)
      .attr("stroke", l.color).attr("stroke-width", 1.3);
    const t = g.append("text").attr("x", l.x + 52).attr("y", l.y + 6).attr("font-size", LABEL_FS);
    rich(t, l.label);
  });
}

const sub = (c) => ({t: c, s: 5, f: SUB_FS});
const lab = (v, n, tItalic) => [{t: v, i: true}, sub(n), {t: "("}, {t: "t", i: tItalic}, {t: ")"}];

panel({
  left: 86, right: 611, top: 9, bottom: 425, yDomain: [-8, 1], yTicks: aTicks,
  series: [{data: x1, color: BLUE}, {data: x2, color: GREEN}, {data: x3, color: RED}],
  xLabel: [346, 477], yLabel: [37, 225],
  legend: [
    {x: 86, y: 522, color: BLUE, label: lab("x", "1", true)},
    {x: 86, y: 547, color: GREEN, label: lab("x", "2", true)},
    {x: 86, y: 573, color: RED, label: lab("x", "3", true)}
  ]
});

panel({
  left: 709.5, right: 1234.5, top: 35.5, bottom: 450, yDomain: [-6, 6], yTicks: bTicks,
  series: [{data: y1, color: BLUE}, {data: y2, color: GREEN}, {data: y3, color: RED}, {data: x0, color: CYAN}],
  xLabel: [972, 503], yLabel: [669, 243],
  legend: [
    {x: 712, y: 548, color: BLUE, label: lab("y", "1", false)},
    {x: 712, y: 574, color: GREEN, label: lab("y", "2", false)},
    {x: 965, y: 548, color: RED, label: lab("y", "3", false)},
    {x: 965, y: 574, color: CYAN, label: lab("x", "0", false)}
  ]
});

panel({
  left: 84.5, right: 614, top: 685, bottom: 1101, yDomain: [100, 400], yTicks: cTicks,
  series: [{data: f3, color: BLUE}],
  xLabel: [348, 1155], yLabel: [29, 893],
  legend: [{x: 90, y: 1197, color: BLUE, label: lab("f", "3", false)}]
});

panel({
  left: 722.5, right: 1250.5, top: 685, bottom: 1101, yDomain: [0.6, 2.2], yTicks: dTicks,
  fmt: d => String(+d.toFixed(1)),
  series: [{data: f0, color: BLUE}],
  xLabel: [983, 1155], yLabel: [669, 893],
  legend: [{x: 725, y: 1197, color: BLUE, label: lab("f", "0", false)}]
});

// ---- Captions ----
const cap = (x, y, anchor, parts) => {
  const t = svg.append("text").attr("x", x).attr("y", y).attr("text-anchor", anchor).attr("font-size", LABEL_FS);
  rich(t, parts);
};
cap(320, 623, "middle", [{t: "(a)\u2002The dynamic states of all sensors"}]);
cap(649, 623, "start", [{t: "(b)\u2002The errors among the average values and states of all nodes, where"}]);
cap(649, 651, "start", [
  {t: "e", i: true}, {t: "i", i: true, s: -8, f: SUB_FS}, {t: "("}, {t: "t", i: true}, {t: ") = "},
  {t: "y", i: true}, {t: "i", i: true, s: 5, f: SUB_FS}, {t: "("}, {t: "t", i: true}, {t: "),\u2003"},
  {t: "i", i: true}, {t: " = 1, 2, 3"}
]);
cap(317, 1247, "middle", [
  {t: "(c)\u2002State of the attack signal, where "},
  {t: "f", i: true}, {t: "3", s: 5, f: SUB_FS}, {t: "("}, {t: "t", i: true}, {t: ")\u2002=\u2002"},
  {t: "f", i: true}, {t: "a", i: true, s: 5, f: SUB_FS}, {t: "("}, {t: "t", i: true}, {t: ")"}
]);
cap(955, 1247, "middle", [
  {t: "(d)\u2002The update law of "},
  {t: "\u03b5", i: true}, {t: "\u03ba\u0304", i: true, s: 5, f: SUB_FS}, {t: "1", s: 9, f: 11},
  {t: ", where "},
  {t: "f", i: true}, {t: "0", s: 5, f: SUB_FS}, {t: "("}, {t: "t", i: true}, {t: ")\u2002=\u2002"},
  {t: "\u03b5", i: true}, {t: "\u03ba\u0304", i: true, s: 5, f: SUB_FS}, {t: "1", s: 9, f: 11}
]);
</script>
</body></html>
